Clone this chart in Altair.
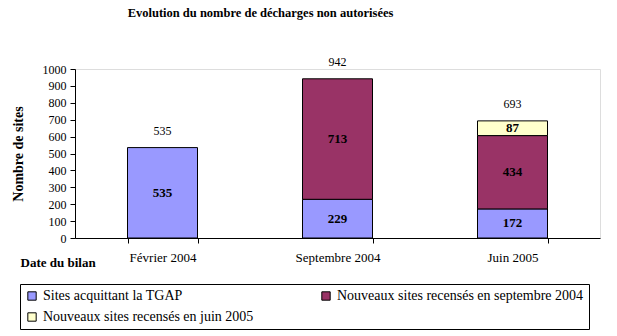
import altair as alt
import pandas as pd

categories = ["Février 2004", "Septembre 2004", "Juin 2005"]
series = [
    "Sites acquittant la TGAP",
    "Nouveaux sites recensés en septembre 2004",
    "Nouveaux sites recensés en juin 2005",
]
tgap = [535, 229, 172]
sept2004 = [0, 713, 434]
juin2005 = [0, 0, 87]
totals = [535, 942, 693]
y_ticks = [0, 100, 200, 300, 400, 500, 600, 700, 800, 900, 1000]
colors = ["#9999FF", "#993366", "#FFFFCC"]

# legend order (filled column by column)
legend_order = [series[0], series[2], series[1]]
legend_colors = [colors[0], colors[2], colors[1]]

rows = []
for i, c in enumerate(categories):
    for k, (s, vals) in enumerate(zip(series, [tgap, sept2004, juin2005])):
        if vals[i] > 0:
            rows.append({"cat": c, "serie": s, "val": vals[i], "ord": k})
df = pd.DataFrame(rows)
tot = pd.DataFrame({"cat": categories, "total": totals})

FONT = "Liberation Serif"

xaxis = alt.Axis(title="Date du bilan", labelAngle=0, labelFont=FONT, labelFontSize=13,
                 labelColor="black", labelPadding=8, tickBand="extent", tickColor="black",
                 domainColor="black", tickSize=5,
                 titleFont=FONT, titleFontSize=13, titleFontWeight="bold",
                 titleAnchor="start", titleAlign="left", titleX=-55, titleY=31,
                 titleBaseline="bottom", titleColor="black")
xscale = alt.Scale(paddingInner=0.6, paddingOuter=0.3)
yaxis = alt.Axis(title="Nombre de sites", values=y_ticks, grid=False, format="d",
                 labelOverlap=False, labelFont=FONT, labelFontSize=12, labelColor="black",
                 tickColor="black", domainColor="black", tickSize=5, labelPadding=4,
                 titleFont=FONT, titleFontSize=14, titleFontWeight="bold", titleColor="black",
                 titlePadding=17)
yscale = alt.Scale(domain=[0, 1000], nice=False)

bars = alt.Chart(df).mark_bar(stroke="black", strokeWidth=1).encode(
    x=alt.X("cat:N", sort=categories, scale=xscale, axis=xaxis),
    y=alt.Y("sum(val):Q", stack="zero", scale=yscale, axis=yaxis),
    color=alt.Color("serie:N",
                    scale=alt.Scale(domain=legend_order, range=legend_colors),
                    legend=alt.Legend(title=None, orient="none", legendX=-55, legendY=215,
                                      columns=2, columnPadding=65, rowPadding=7,
                                      symbolType="square", symbolSize=70,
                                      symbolStrokeColor="black", symbolStrokeWidth=1,
                                      labelFont=FONT, labelFontSize=14, labelColor="black",
                                      labelLimit=400, strokeColor="black", padding=5,
                                      fillColor="white")),
    order=alt.Order("ord:Q"),
)

inner = alt.Chart(df).transform_stack(
    stack="val", groupby=["cat"], as_=["v0", "v1"], sort=[alt.SortField("ord")]
).transform_calculate(mid="(datum.v0 + datum.v1) / 2").mark_text(
    font=FONT, fontSize=13, fontWeight="bold", color="black", baseline="middle"
).encode(x=alt.X("cat:N", sort=categories, scale=xscale, axis=xaxis),
         y=alt.Y("mid:Q", scale=yscale, axis=yaxis), text="val:Q")

top = alt.Chart(tot).mark_text(
    font=FONT, fontSize=12, color="black", baseline="bottom", dy=-10
).encode(x=alt.X("cat:N", sort=categories, scale=xscale, axis=xaxis),
         y=alt.Y("total:Q", scale=yscale, axis=yaxis), text="total:Q")

chart = alt.layer(bars, inner, top).properties(
    width=525, height=169,
    title=alt.TitleParams("Evolution du nombre de décharges non autorisées", font=FONT,
                          fontSize=12.5, fontWeight="bold", color="black", anchor="middle",
                          dx=-77, offset=36),
    autosize=alt.AutoSizeParams(type="none"),
    padding={"left": 75, "top": 69, "right": 17, "bottom": 98},
).configure_view(stroke=None).configure(background="white")

chart.save("out.html", embed_options={"renderer": "svg", "actions": False})
